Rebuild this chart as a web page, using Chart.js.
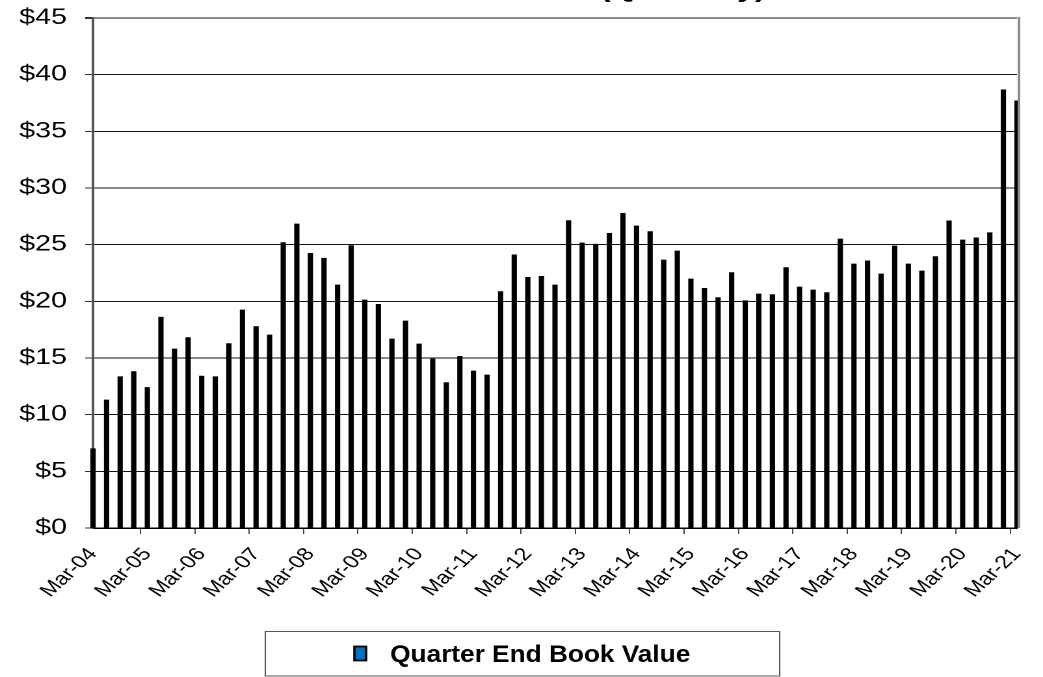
<!DOCTYPE html>
<html>
<head>
<meta charset="utf-8">
<script src="https://cdn.jsdelivr.net/npm/chart.js@4"></script>
<style>
  html, body { margin: 0; padding: 0; background: #fff; overflow: hidden; }
  /* the original picture is stretched sideways, so the chart is drawn narrow and widened */
  #wrap { width: 802px; height: 677px; transform: scaleX(1.3005); transform-origin: 0 0; }
</style>
</head>
<body>
<div id="wrap"><canvas id="bookChart"></canvas></div>
<script>
// Quarter labels, Mar-04 .. Mar-21
const quarters = [
  'Mar-04', 'Jun-04', 'Sep-04', 'Dec-04',
  'Mar-05', 'Jun-05', 'Sep-05', 'Dec-05',
  'Mar-06', 'Jun-06', 'Sep-06', 'Dec-06',
  'Mar-07', 'Jun-07', 'Sep-07', 'Dec-07',
  'Mar-08', 'Jun-08', 'Sep-08', 'Dec-08',
  'Mar-09', 'Jun-09', 'Sep-09', 'Dec-09',
  'Mar-10', 'Jun-10', 'Sep-10', 'Dec-10',
  'Mar-11', 'Jun-11', 'Sep-11', 'Dec-11',
  'Mar-12', 'Jun-12', 'Sep-12', 'Dec-12',
  'Mar-13', 'Jun-13', 'Sep-13', 'Dec-13',
  'Mar-14', 'Jun-14', 'Sep-14', 'Dec-14',
  'Mar-15', 'Jun-15', 'Sep-15', 'Dec-15',
  'Mar-16', 'Jun-16', 'Sep-16', 'Dec-16',
  'Mar-17', 'Jun-17', 'Sep-17', 'Dec-17',
  'Mar-18', 'Jun-18', 'Sep-18', 'Dec-18',
  'Mar-19', 'Jun-19', 'Sep-19', 'Dec-19',
  'Mar-20', 'Jun-20', 'Sep-20', 'Dec-20',
  'Mar-21'
];

// Quarter end book value ($)
const bookValue = [
  7.0, 11.3, 13.35, 13.8,
  12.4, 18.6, 15.8, 16.8,
  13.4, 13.35, 16.27, 19.24,
  17.77, 17.03, 25.18, 26.83,
  24.24, 23.8, 21.45, 24.92,
  20.12, 19.74, 16.68, 18.27,
  16.24, 14.92, 12.83, 15.15,
  13.86, 13.5, 20.86, 24.1,
  22.12, 22.21, 21.45, 27.12,
  25.15, 25.04, 26.0, 27.77,
  26.65, 26.15, 23.65, 24.45,
  21.98, 21.15, 20.33, 22.54,
  20.06, 20.65, 20.6, 22.98,
  21.27, 21.0, 20.77, 25.5,
  23.3, 23.57, 22.42, 24.89,
  23.3, 22.68, 23.95, 27.1,
  25.42, 25.6, 26.06, 38.66,
  37.69
];

const yTicks = [0, 5, 10, 15, 20, 25, 30, 35, 40, 45];

const FONT = "'Liberation Sans', Arial, sans-serif";

// title sits almost entirely above the top of the picture
const titlePlugin = {
  id: 'topTitle',
  afterDraw(chart) {
    const ctx = chart.ctx;
    ctx.save();
    ctx.font = 'bold 25px ' + FONT;
    ctx.fillStyle = '#000';
    ctx.textAlign = 'right';
    ctx.textBaseline = 'alphabetic';
    ctx.fillText('Book Value Per Share (Quarterly)', 589, -3);
    ctx.restore();
  }
};

// right border of the plot area
const framePlugin = {
  id: 'frame',
  afterDraw(chart) {
    const a = chart.chartArea;
    const ctx = chart.ctx;
    ctx.save();
    ctx.strokeStyle = '#8c8c8c';
    ctx.lineWidth = 2;
    ctx.beginPath();
    ctx.moveTo(a.right + 1.5, a.top - 1);
    ctx.lineTo(a.right + 1.5, a.bottom);
    ctx.stroke();
    ctx.restore();
  }
};

// boxed legend under the chart
const boxLegend = {
  id: 'boxLegend',
  afterDraw(chart) {
    const ctx = chart.ctx;
    const ds = chart.data.datasets[0];
    ctx.save();
    ctx.strokeStyle = '#555';
    ctx.lineWidth = 1;
    ctx.strokeRect(204, 631.5, 395.5, 44.5);
    ctx.fillStyle = '#0070c0';
    ctx.fillRect(272.5, 646.5, 9, 14);
    ctx.strokeStyle = '#000';
    ctx.lineWidth = 1.8;
    ctx.strokeRect(272.5, 646.5, 9, 14);
    // legend lettering is narrower than the rest of the stretched picture
    ctx.translate(300, 662);
    ctx.scale(0.84, 1);
    ctx.font = 'bold 24px ' + FONT;
    ctx.fillStyle = '#000';
    ctx.textAlign = 'left';
    ctx.textBaseline = 'alphabetic';
    ctx.fillText(ds.label, 0, 0);
    ctx.restore();
  }
};

const ctx = document.getElementById('bookChart').getContext('2d');
const bookChart = new Chart(ctx, {
  type: 'bar',
  data: {
    labels: quarters,
    datasets: [{
      label: 'Quarter End Book Value',
      data: bookValue,
      backgroundColor: '#000',
      borderWidth: 0,
      barThickness: 3.4,
      clip: false
    }]
  },
  options: {
    responsive: true,
    maintainAspectRatio: false,
    devicePixelRatio: 2,
    animation: false,
    layout: { padding: { top: 18, left: 0, right: 20, bottom: 59 } },
    plugins: {
      legend: { display: false },
      title: { display: false },
      tooltip: { enabled: false }
    },
    scales: {
      x: {
        offset: false,
        grid: {
          drawOnChartArea: false,
          tickLength: 6,
          tickColor: c => (c.index % 4 === 0 ? '#444' : 'rgba(0,0,0,0)'),
          lineWidth: 1
        },
        border: { display: true, color: '#000', width: 1.5 },
        ticks: {
          autoSkip: false,
          maxRotation: 50,
          minRotation: 50,
          padding: 10,
          color: '#000',
          font: { family: FONT, size: 18 },
          callback: function (v, i) { return i % 4 === 0 ? this.getLabelForValue(v) : ''; }
        },
        afterFit: s => { s.height = 90; s.paddingLeft = 0; s.paddingRight = 0; }
      },
      y: {
        min: 0,
        max: 45,
        afterBuildTicks: s => { s.ticks = yTicks.map(v => ({ value: v })); },
        grid: {
          color: c => (c.tick && c.tick.value === 45 ? '#8c8c8c' : '#111'),
          lineWidth: c => (c.tick && c.tick.value === 45 ? 2 : 1),
          tickLength: 6,
          tickColor: '#333'
        },
        border: { display: true, color: '#555', width: 2 },
        ticks: {
          padding: 14,
          color: '#000',
          font: { family: FONT, size: 22 },
          callback: v => '$' + v
        },
        afterFit: s => { s.width = 71.5; s.paddingTop = 0; s.paddingBottom = 0; }
      }
    }
  },
  plugins: [titlePlugin, framePlugin, boxLegend]
});
</script>
</body>
</html>
